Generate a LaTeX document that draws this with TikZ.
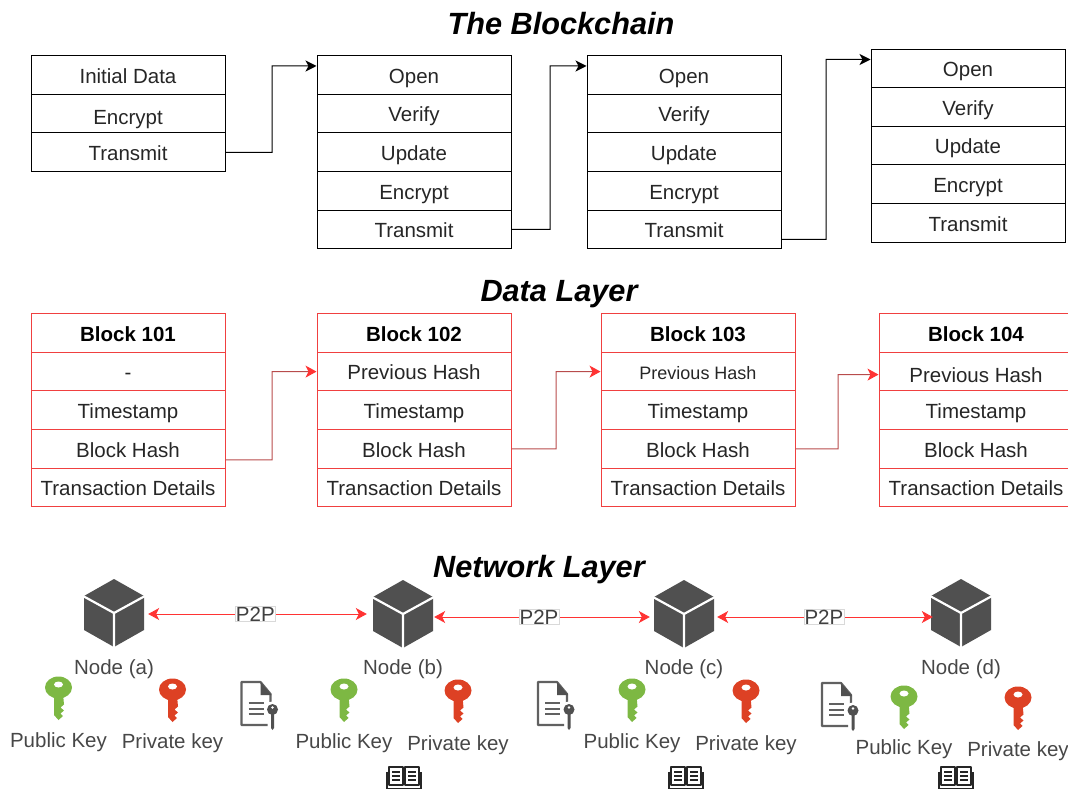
\documentclass[tikz,border=0pt]{standalone}
\usepackage{fontspec}
\setmainfont{Liberation Sans}
\usepackage{xcolor}
\usetikzlibrary{arrows.meta}
\definecolor{cellred}{HTML}{F04040}
\definecolor{linkred}{HTML}{FF3333}
\definecolor{linkdark}{HTML}{B84C4C}
\definecolor{icongray}{HTML}{505050}
\definecolor{keygreen}{HTML}{7DB843}
\definecolor{keyred}{HTML}{DD4124}
\tikzset{
  txt/.style={text=black!85, font=\fontsize{20.5}{23}\selectfont},
  cell/.style={txt, draw=black, line width=1pt, minimum width=194pt, minimum height=38.6pt, inner sep=0pt, text height=20.5pt, text depth=4pt},
  lowcell/.style={cell, text height=23pt, text depth=1pt},
  redcell/.style={cell, draw=cellred},
  lowredcell/.style={lowcell, draw=cellred},
  smallcell/.style={redcell, font=\fontsize{18}{20}\selectfont},
  boldcell/.style={redcell, text=black, font=\fontsize{20.5}{23}\selectfont\bfseries},
  title/.style={text=black, font=\fontsize{30.7}{34}\selectfont\bfseries\itshape},
  caption/.style={text=black!72, font=\fontsize{20.5}{23}\selectfont, inner sep=0pt},
  cubebox/.style={minimum width=68pt, minimum height=68pt, inner sep=0pt},
  chain/.style={draw=black, line width=1pt, -{Stealth[length=11pt,width=11pt,inset=3pt]}},
  datalink/.style={draw=linkdark, line width=1pt, -{Stealth[length=11pt,width=12pt,inset=3pt,color=linkred]}},
  p2p/.style={draw=linkred, line width=1pt, {Stealth[length=11pt,width=12pt,inset=3pt]}-{Stealth[length=11pt,width=12pt,inset=3pt]}},
  p2plabel/.style={text=black!75, draw=black!15, fill=white, line width=0.6pt, font=\fontsize{20.5}{23}\selectfont, inner sep=0.5pt},
  cubeicon/.pic={
    \fill[icongray] (0,-34) -- (30,-17) -- (30,17) -- (0,34) -- (-30,17) -- (-30,-17) -- cycle;
    \draw[white, line width=2.2pt] (-31,-17) -- (0,0) -- (31,-17) (0,0) -- (0,35);
  },
  keyicon/.pic={
    \fill[#1] (0,-1.5) ellipse (13.5 and 11);
    \fill[#1] (-4.5,5) -- (-4.5,26) -- (0,31) -- (4.5,27) -- (2,24.5) -- (5.5,21.5) -- (2,18.5) -- (5.5,15.5) -- (4.5,5) -- cycle;
    \fill[white] (0,-4.5) ellipse (4.5 and 3);
  },
  docicon/.pic={
    \draw[black!62, line width=2.2pt, line join=round] (11,6) -- (11,-11) -- (1,-23) -- (-18,-23) -- (-18,20) -- (8,20);
    \fill[icongray] (1,-23) -- (12,-10) -- (1,-10) -- cycle;
    \draw[black!62, line width=2pt] (-11,-2) -- (4,-2) (-11,3.5) -- (4,3.5) (-11,9) -- (4,9);
    \fill[white] (13,4.5) circle (8);
    \fill[icongray] (13,4.5) circle (5.5);
    \fill[icongray] (11.5,8) -- (11.5,23) -- (13,25) -- (14.5,23) -- (14.5,8) -- cycle;
    \fill[white] (13,2.5) circle (1.4);
  },
  bookicon/.pic={
    \draw[black!85, line width=1.8pt, line join=round] (-15,-10.5) -- (-1,-10.5) -- (-1,7.5) -- (-15,7.5) -- cycle (15,-10.5) -- (1,-10.5) -- (1,7.5) -- (15,7.5) -- cycle;
    \draw[black!85, line width=1.8pt] (-17,-6) -- (-17,11) -- (17,11) -- (17,-6);
    \foreach \r in {-5.5,-1.5,2.5} {
      \draw[black!85, line width=1.4pt] (-12,\r) -- (-4,\r) (4,\r) -- (12,\r);
    }
  },
}
\begin{document}
\begin{tikzpicture}[x=1pt, y=-1pt]
  \clip (0,0) rectangle (1068,791);
  \node[title] (chaintitle) at (561,24) {The Blockchain};
  \node[title] (datatitle) at (559,294) {Data Layer};
  \node[title] (nettitle) at (539,570) {Network Layer};
  \foreach \n/\t/\k in {1/Initial Data/cell,2/Encrypt/lowcell,3/Transmit/cell} {
    \node[\k] (a\n) at (128, 36.5 + \n * 38.6) {\t};
  }
  \foreach \c/\x/\y in {b/414/75,c/684/75,d/968/68.5} {
    \foreach \n/\t in {1/Open,2/Verify,3/Update,4/Encrypt,5/Transmit} {
      \node[cell] (\c\n) at (\x, \y + \n * 38.6 - 38.6) {\t};
    }
  }
  \draw[chain] (a3.east) -- (272,152.3) |- ([yshift=9pt]b1.west);
  \draw[chain] (b5.east) -- (550,229.4) |- ([yshift=9pt]c1.west);
  \draw[chain] ([yshift=-10pt]c5.east) -- (826,239.4) |- ([yshift=9pt]d1.west);
  \foreach \c/\x/\u/\t/\k in {e/128/101/-/redcell,f/414/102/Previous Hash/redcell,g/698/103/Previous Hash/smallcell,h/976/104/Previous Hash/lowredcell} {
    \node[boldcell] (\c1) at (\x,333) {Block \u};
    \node[\k] (\c2) at (\x,371.6) {\t};
    \foreach \n/\s in {3/Timestamp,4/Block Hash,5/Transaction Details} {
      \node[redcell] (\c\n) at (\x, 294.4 + \n * 38.6) {\s};
    }
  }
  \draw[datalink] ([yshift=-11pt]e4.east) -- (272,459.8) |- (f2.west);
  \draw[datalink] (f4.east) -- (556,448.8) |- (g2.west);
  \draw[datalink] (g4.east) -- (838,448.8) |- ([yshift=-3pt]h2.west);
  \foreach \c/\x/\y/\l in {a/114/613/a,b/403/614/b,c/684/614/c,d/961/613/d} {
    \node[cubebox] (node\c) at (\x,\y) {};
    \pic at (node\c) {cubeicon};
    \node[caption] (cap\c) at (\x,669) {Node (\l)};
  }
  \draw[p2p] ([yshift=-1pt]nodea.east) -- node[p2plabel, pos=0.49] (p2pa) {P2P} ([xshift=-2pt]nodeb.west);
  \draw[p2p] ([xshift=-3pt,yshift=-3pt]nodeb.east) -- node[p2plabel, pos=0.486] (p2pb) {P2P} ([yshift=-3pt]nodec.west);
  \draw[p2p] ([xshift=-1pt,yshift=-3pt]nodec.east) -- node[p2plabel, pos=0.495] (p2pc) {P2P} ([xshift=6pt,yshift=-4pt]noded.west);
  \foreach \c/\gx/\gy/\rx/\ry/\py/\qy in {a/58.5/689/172.5/691/742.5/743.5,b/344/691/458/692/743.5/745,c/632/691/746/692/743.5/745,d/904/698/1018/699/749/751} {
    \pic at (\gx,\gy) {keyicon=keygreen};
    \pic at (\rx,\ry) {keyicon=keyred};
    \node[caption] (pub\c) at (\gx,\py) {Public Key};
    \node[caption] (priv\c) at (\rx,\qy) {Private key};
  }
  \foreach \x/\y in {259.5/705,556/705,840/706} {
    \pic at (\x,\y) {docicon};
  }
  \foreach \x in {404,686,956} {
    \pic at (\x,777.5) {bookicon};
  }
\end{tikzpicture}
\end{document}
